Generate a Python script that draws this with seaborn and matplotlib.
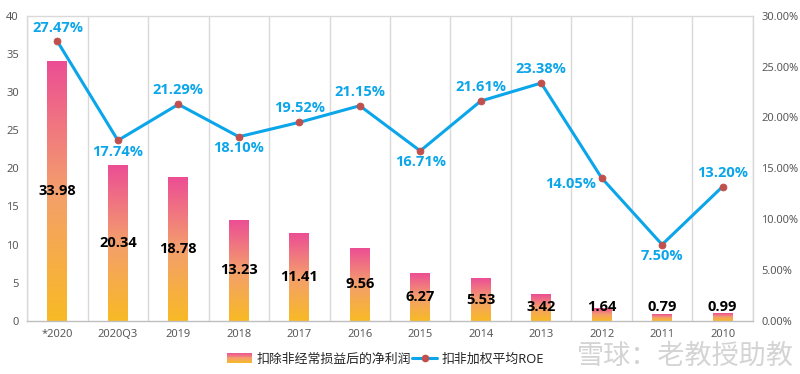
import numpy as np
import pandas as pd
import matplotlib
matplotlib.use("Agg")
import matplotlib.pyplot as plt
import seaborn as sns
from matplotlib.colors import LinearSegmentedColormap
from matplotlib.lines import Line2D
from matplotlib.patches import Rectangle
from matplotlib.legend_handler import HandlerBase
from matplotlib import font_manager as fm

# ---------------- data ----------------
categories = ["*2020", "2020Q3", "2019", "2018", "2017", "2016",
              "2015", "2014", "2013", "2012", "2011", "2010"]
profit = [33.98, 20.34, 18.78, 13.23, 11.41, 9.56, 6.27, 5.53, 3.42, 1.64, 0.79, 0.99]
roe = [27.47, 17.74, 21.29, 18.10, 19.52, 21.15, 16.71, 21.61, 23.38, 14.05, 7.50, 13.20]
roe_label_side = ["above", "below", "above", "below", "above", "above",
                  "below", "above", "above", "left", "below", "above"]
left_ticks = [0, 5, 10, 15, 20, 25, 30, 35, 40]
right_ticks = [0, 5, 10, 15, 20, 25, 30]
profit_name = "扣除非经常损益后的净利润"
roe_name = "扣非加权平均ROE"
watermark = "雪球：老教授助教"

# ---------------- style ----------------
sns.set_theme(style="white")
plt.rcParams['font.family'] = ['Noto Sans', 'Noto Sans CJK SC', 'DejaVu Sans']

# pick a family that really has a bold face
bold_family = "DejaVu Sans"
for fam in ["Open Sans", "Noto Sans", "Lato", "Liberation Sans"]:
    try:
        fp = fm.findfont(fm.FontProperties(family=fam, weight="bold"), fallback_to_default=False)
        if "bold" in fp.lower():
            bold_family = fam
            break
    except Exception:
        pass

BLUE = "#0BA5EA"
RED = "#C0504D"
GRID = "#D9D9D9"
TICK = "#595959"
cmap = LinearSegmentedColormap.from_list("g", ["#F8BA25", "#F49F6C", "#EC4E94"])

fig = plt.figure(figsize=(8.0, 3.74), dpi=100)
ax = fig.add_axes([0.034, 0.142, 0.907, 0.816])

df = pd.DataFrame({"cat": categories, "profit": profit, "roe": roe})
sns.barplot(data=df, x="cat", y="profit", order=categories, width=0.33,
            color="#F3927E", saturation=1, ax=ax, zorder=2)

grad = np.linspace(0, 1, 256).reshape(-1, 1)
for p in list(ax.patches):
    x0, y0, w, h = p.get_x(), p.get_y(), p.get_width(), p.get_height()
    ax.imshow(grad, cmap=cmap, origin="lower", extent=[x0, x0 + w, y0, y0 + h],
              aspect="auto", zorder=2, interpolation="bilinear")
    p.set_facecolor("none")
    p.set_edgecolor("none")

n = len(categories)
ax.set_xlim(-0.5, n - 0.5)
ax.set_ylim(0, 40)
for b in np.arange(n + 1) - 0.5:
    ax.axvline(b, color=GRID, lw=1, zorder=0)
for s in ["top", "bottom", "left", "right"]:
    ax.spines[s].set_color(GRID)
    ax.spines[s].set_linewidth(1)
ax.spines["bottom"].set_color("#BFBFBF")

ax.set_yticks(left_ticks)
ax.set_yticklabels([str(t) for t in left_ticks])
ax.tick_params(axis="y", length=0, pad=6, labelsize=8, labelcolor=TICK)
ax.tick_params(axis="x", length=0, pad=6, labelsize=8, labelcolor=TICK)
ax.set_xlabel("")
ax.set_ylabel("")

for i, v in enumerate(profit):
    ax.text(i, max(v / 2, 1.8), f"{v:.2f}", ha="center", va="center",
            fontsize=10.5, fontweight="bold", family=bold_family,
            color="black", zorder=5)

# ---------------- line on right axis ----------------
ax2 = ax.twinx()
sns.lineplot(x=categories, y=roe, sort=False, ax=ax2, color=BLUE, lw=2.2,
             marker="o", markersize=4.8, markerfacecolor=RED, markeredgecolor=RED,
             zorder=4)
ax2.set_ylim(0, 30)
ax2.set_xlim(-0.5, n - 0.5)
ax2.set_yticks(right_ticks)
ax2.set_yticklabels([f"{t:.2f}%" for t in right_ticks])
ax2.tick_params(axis="y", length=0, pad=6, labelsize=8, labelcolor=TICK)
for s in ["top", "bottom", "left", "right"]:
    ax2.spines[s].set_visible(False)
ax2.set_ylabel("")
ax2.grid(False)

for i, (v, side) in enumerate(zip(roe, roe_label_side)):
    if side == "above":
        off, ha, va = (0, 5), "center", "bottom"
    elif side == "below":
        off, ha, va = (0, -3), "center", "top"
    else:
        off, ha, va = (-4, -4), "right", "center"
    ax2.annotate(f"{v:.2f}%", (i, v), xytext=off, textcoords="offset points",
                 ha=ha, va=va, fontsize=10.5, fontweight="bold", family=bold_family,
                 color=BLUE, zorder=6)

# ---------------- legend ----------------
class GradHandler(HandlerBase):
    def create_artists(self, legend, orig_handle, xdescent, ydescent,
                       width, height, fontsize, trans):
        k = 14
        arts = []
        for j in range(k):
            arts.append(Rectangle((-xdescent, -ydescent + height * j / k), width,
                                  height / k * 1.05, facecolor=cmap(j / (k - 1)),
                                  edgecolor="none", transform=trans))
        return arts

grad_handle = Rectangle((0, 0), 1, 1)
line_handle = Line2D([0], [0], color=BLUE, lw=2.2, marker="o", markersize=4.5,
                     markerfacecolor=RED, markeredgecolor=RED)
leg = fig.legend([grad_handle, line_handle], [profit_name, roe_name],
                 handler_map={grad_handle: GradHandler()},
                 loc="center", bbox_to_anchor=(0.482, 0.04), ncol=2, frameon=False,
                 fontsize=9.3, handlelength=1.9, handleheight=0.9,
                 handletextpad=0.35, columnspacing=0.1)
for t in leg.get_texts():
    t.set_color("#262626")

fig.text(0.993, 0.047, watermark, ha="right", va="center", fontsize=19.5,
         color="#D4D4D4")

fig.savefig("out.png", dpi=100)
